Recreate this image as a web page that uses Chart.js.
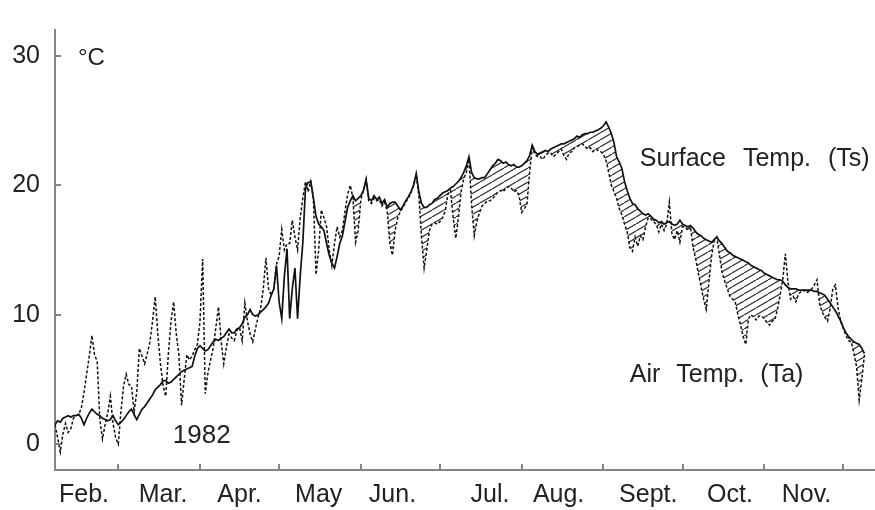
<!DOCTYPE html>
<html><head><meta charset="utf-8">
<script src="https://cdn.jsdelivr.net/npm/chart.js@4/dist/chart.umd.min.js"></script>
<style>html,body{margin:0;padding:0;background:#fff;overflow:hidden}</style>
</head><body>
<canvas id="c" width="875" height="510"></canvas>
<script>
// Day of year (1982), Feb 5 .. Dec 9
const days = [
 36,37,38,39,40,41,42,43,44,45,46,47,48,49,50,51,52,53,54,55,
 56,57,58,59,60,61,62,63,64,65,66,67,68,69,70,71,72,73,74,75,
 76,77,78,79,80,81,82,83,84,85,86,87,88,89,90,91,92,93,94,95,
 96,97,98,99,100,101,102,103,104,105,106,107,108,109,110,111,112,113,114,115,
 116,117,118,119,120,121,122,123,124,125,126,127,128,129,130,131,132,133,134,135,
 136,137,138,139,140,141,142,143,144,145,146,147,148,149,150,151,152,153,154,155,
 156,157,158,159,160,161,162,163,164,165,166,167,168,169,170,171,172,173,174,175,
 176,177,178,179,180,181,182,183,184,185,186,187,188,189,190,191,192,193,194,195,
 196,197,198,199,200,201,202,203,204,205,206,207,208,209,210,211,212,213,214,215,
 216,217,218,219,220,221,222,223,224,225,226,227,228,229,230,231,232,233,234,235,
 236,237,238,239,240,241,242,243,244,245,246,247,248,249,250,251,252,253,254,255,
 256,257,258,259,260,261,262,263,264,265,266,267,268,269,270,271,272,273,274,275,
 276,277,278,279,280,281,282,283,284,285,286,287,288,289,290,291,292,293,294,295,
 296,297,298,299,300,301,302,303,304,305,306,307,308,309,310,311,312,313,314,315,
 316,317,318,319,320,321,322,323,324,325,326,327,328,329,330,331,332,333,334,335,
 336,337,338,339,340,341,342,343
];

// Surface temperature Ts (solid line), deg C
const surfaceTemp = [
 1.5,1.8,1.7,2.0,2.1,2.2,2.1,2.2,2.2,2.3,
 2.0,1.5,2.0,2.4,2.7,2.5,2.3,2.2,2.0,1.9,
 1.8,1.9,2.2,1.8,1.5,1.7,1.9,2.2,2.5,2.7,
 2.3,1.9,2.3,2.7,2.9,3.2,3.5,3.8,4.2,4.4,
 4.6,4.9,4.9,4.7,4.8,5.0,5.2,5.4,5.6,5.7,
 5.8,5.9,6.0,6.8,7.4,7.6,7.4,7.2,7.3,7.6,
 7.9,8.1,8.0,8.2,8.3,8.6,8.9,8.6,8.6,8.9,
 9.0,9.3,9.8,10.0,10.4,10.0,9.9,10.0,10.2,10.4,
 10.6,10.9,11.5,12.0,13.8,11.0,9.7,13.0,15.1,9.7,
 12.0,13.6,9.7,13.0,15.6,19.8,20.2,20.3,19.0,17.6,
 17.0,16.8,16.5,15.5,14.6,14.0,13.6,14.5,15.5,16.1,
 17.2,18.3,
 18.8,19.2,18.8,19.0,19.2,19.6,20.4,19.0,18.8,19.2,
 18.9,19.1,18.6,18.9,18.3,18.6,18.7,18.7,18.4,18.1,
 18.4,18.8,19.1,19.5,20.0,20.9,19.5,18.6,18.3,18.3,
 18.5,18.6,18.9,19.0,19.2,19.4,19.5,19.6,19.8,19.9,
 20.1,20.3,20.6,21.0,21.5,22.2,21.0,20.6,20.5,20.5,
 20.6,20.6,20.9,21.2,21.5,21.7,22.0,21.9,21.7,21.8,
 21.6,21.5,21.6,21.4,21.4,21.5,21.7,21.9,22.3,23.1,
 22.6,22.4,
 22.5,22.6,22.7,22.6,22.8,22.9,23.0,23.1,23.2,23.2,
 23.3,23.4,23.5,23.6,23.8,23.7,23.9,24.0,24.0,24.1,
 24.1,24.2,24.3,24.4,24.6,
 24.9,24.5,24.0,23.3,22.2,21.8,21.3,20.3,19.6,19.0,
 18.6,18.5,18.2,18.0,17.8,17.7,17.8,17.6,17.4,17.3,
 17.1,17.2,17.0,17.1,17.2,17.0,16.9,17.0,17.3,17.0,
 16.9,16.8,16.9,16.7,16.4,16.2,16.1,15.9,15.8,15.7,
 15.6,15.8,16.0,15.7,15.5,15.2,14.9,14.8,14.6,14.5,
 14.4,14.3,14.2,14.1,14.0,13.8,13.7,13.6,13.5,13.4,
 13.2,13.1,13.0,12.9,12.8,12.7,12.7,12.6,12.3,12.1,
 12.0,12.0,12.0,11.9,11.9,11.9,11.9,11.9,11.9,11.8,
 11.8,11.7,11.6,11.5,11.2,10.9,10.6,10.3,9.9,9.5,
 9.0,8.6,8.3,8.1,7.9,7.8,7.7,7.4,7.0
];

// Air temperature Ta (dashed line), deg C
const airTemp = [
 1.5,0.5,-0.6,0.8,1.6,0.9,1.2,2.0,2.2,2.3,
 2.8,4.0,5.4,6.8,8.4,6.9,6.4,1.9,0.4,1.5,
 2.4,3.7,1.6,0.5,0.0,2.5,4.5,5.4,4.6,4.5,
 2.5,4.0,7.4,6.8,6.2,7.0,7.9,9.5,11.4,8.5,
 6.2,4.5,3.7,7.0,9.5,11.0,8.5,6.9,3.0,5.0,
 6.9,6.5,6.8,7.3,7.7,9.5,14.3,3.9,5.5,6.5,
 7.4,9.0,10.6,8.0,6.2,7.5,8.5,8.2,8.0,8.8,
 9.0,8.0,10.9,9.5,8.5,7.9,8.9,9.8,10.5,12.0,
 14.4,12.0,11.5,12.0,13.9,14.5,16.6,15.0,15.5,15.5,
 17.3,16.0,15.0,17.5,19.0,20.3,19.5,20.3,19.0,13.1,
 15.0,18.1,17.5,16.8,15.0,13.8,15.5,16.8,16.0,16.5,
 18.0,19.3,
 20.0,19.0,15.6,16.5,18.9,19.6,20.5,18.8,18.6,19.0,
 18.8,18.9,18.4,18.7,18.0,15.5,14.6,16.5,17.5,18.0,
 18.3,18.7,19.0,19.4,20.0,20.8,19.2,16.0,13.6,15.0,
 16.5,17.0,17.1,17.0,17.2,17.5,18.0,19.3,19.6,17.5,
 15.9,17.5,19.5,20.5,21.0,22.0,18.5,16.1,17.2,17.9,
 18.4,18.6,18.8,18.8,19.0,19.2,19.5,19.6,19.5,19.8,
 19.9,19.8,19.5,19.6,19.2,17.9,18.2,18.5,21.0,22.9,
 22.4,22.2,
 22.2,22.0,22.3,22.5,22.5,22.2,22.4,22.6,22.8,22.3,
 22.0,22.5,22.6,22.9,23.0,23.1,23.2,23.0,22.8,22.9,
 22.6,22.8,22.7,22.6,22.4,
 21.9,21.0,20.0,19.5,19.0,18.2,17.7,17.0,16.4,15.2,
 14.9,16.0,15.3,16.1,15.8,16.8,17.5,17.4,17.2,17.0,
 16.4,17.0,16.5,17.0,18.7,16.2,15.8,16.5,15.6,16.8,
 16.8,16.5,16.8,15.2,14.3,13.2,12.2,11.2,10.4,12.5,
 14.5,15.7,16.0,14.6,13.3,12.6,12.0,11.4,11.2,11.0,
 10.0,9.2,8.3,7.7,9.7,10.0,9.8,9.6,9.9,9.9,
 9.7,9.4,9.2,9.5,9.6,10.4,11.5,12.7,14.7,12.5,
 11.2,11.4,11.0,11.6,11.8,11.9,11.7,11.8,12.0,12.3,
 12.7,10.8,10.2,9.8,9.5,10.5,12.0,12.3,10.5,9.5,
 8.9,8.4,8.0,7.9,7.0,6.0,3.4,5.0,6.9
];

const monthLabels = ['Feb.','Mar.','Apr.','May','Jun.','Jul.','Aug.','Sept.','Oct.','Nov.'];
const monthLabelDays = [47,77,106,136,164,201,227,261,292,321];
const monthStartDays = [60,91,121,152,182,213,244,274,305,335];
const yTickValues = [0,10,20,30];
const hatchFromDay = 148;

const FONT = "'Liberation Sans', Arial, Helvetica, sans-serif";
const TEXT = '#222222';
const AXIS = '#858585';
Chart.defaults.font.family = FONT;

const canvas = document.getElementById('c');
function makeHatch() {
  const w = 12, h = 7;
  const t = document.createElement('canvas');
  t.width = w; t.height = h;
  const g = t.getContext('2d');
  g.strokeStyle = '#333333';
  g.lineWidth = 1.2;
  g.beginPath();
  for (const dx of [-w, 0, w]) {
    g.moveTo(dx, h); g.lineTo(dx + w, 0);
  }
  g.stroke();
  return canvas.getContext('2d').createPattern(t, 'repeat');
}

const tsPoints = days.map((d, i) => ({x: d, y: surfaceTemp[i]}));
const taPoints = days.map((d, i) => ({x: d, y: airTemp[i]}));
const hatchPoints = tsPoints.filter(p => p.x >= hatchFromDay);

const notes = [
  {text: '°C', day: 44.7, temp: 29.8, size: 24, ws: '0px'},
  {text: 'Surface Temp. (Ts)', day: 257.8, temp: 22.0, size: 25, ws: '10px'},
  {text: 'Air Temp. (Ta)', day: 254.0, temp: 5.3, size: 25, ws: '9px'},
  {text: '1982', day: 80.7, temp: 0.67, size: 26, ws: '0px'}
];

const decor = {
  id: 'decor',
  afterDraw(chart) {
    const {ctx, scales: {x, y}} = chart;
    ctx.save();
    ctx.strokeStyle = AXIS;
    ctx.lineWidth = 2;
    ctx.beginPath();
    for (const v of yTickValues) {
      const py = Math.round(y.getPixelForValue(v));
      ctx.moveTo(x.left, py); ctx.lineTo(x.left + 6, py);
    }
    for (const d of monthStartDays) {
      const px = Math.round(x.getPixelForValue(d));
      ctx.moveTo(px, y.bottom); ctx.lineTo(px, y.bottom - 6);
    }
    ctx.stroke();
    ctx.fillStyle = TEXT;
    ctx.textAlign = 'left';
    ctx.textBaseline = 'middle';
    for (const n of notes) {
      ctx.font = n.size + 'px ' + FONT;
      ctx.wordSpacing = n.ws;
      ctx.fillText(n.text, x.getPixelForValue(n.day), y.getPixelForValue(n.temp));
    }
    ctx.restore();
  }
};

new Chart(canvas, {
  type: 'line',
  data: {
    datasets: [
      {label: 'Surface Temp. (Ts)', data: tsPoints, borderColor: '#111111', borderWidth: 1.7,
       pointRadius: 0, tension: 0, fill: false, order: 1},
      {label: 'Air Temp. (Ta)', data: taPoints, borderColor: '#111111', borderWidth: 1.5,
       borderDash: [3, 2], pointRadius: 0, tension: 0, fill: false, order: 1},
      {label: 'Ts > Ta', data: hatchPoints, borderColor: 'rgba(0,0,0,0)', borderWidth: 0,
       pointRadius: 0, tension: 0, order: 2,
       fill: {target: 1, above: makeHatch(), below: 'rgba(0,0,0,0)'}}
    ]
  },
  options: {
    responsive: false,
    animation: false,
    layout: {padding: {top: 13, right: 0, left: 0, bottom: 0}},
    plugins: {legend: {display: false}, tooltip: {enabled: false}},
    scales: {
      x: {
        type: 'linear', min: 36, max: 347,
        afterBuildTicks: s => { s.ticks = monthLabelDays.map(v => ({value: v})); },
        afterFit: s => { s.height = 40; },
        ticks: {callback: (v, i) => monthLabels[i], autoSkip: false, maxRotation: 0, minRotation: 0,
                padding: 10, color: TEXT, font: {size: 25}},
        grid: {display: false, drawTicks: false},
        border: {display: true, color: AXIS, width: 2}
      },
      y: {
        type: 'linear', min: -2, max: 32,
        afterBuildTicks: s => { s.ticks = yTickValues.map(v => ({value: v})); },
        afterFit: s => { s.width = 55; },
        ticks: {padding: 15, color: TEXT, font: {size: 25}},
        grid: {display: false, drawTicks: false},
        border: {display: true, color: AXIS, width: 2}
      }
    }
  },
  plugins: [decor]
});
</script>
</body></html>
